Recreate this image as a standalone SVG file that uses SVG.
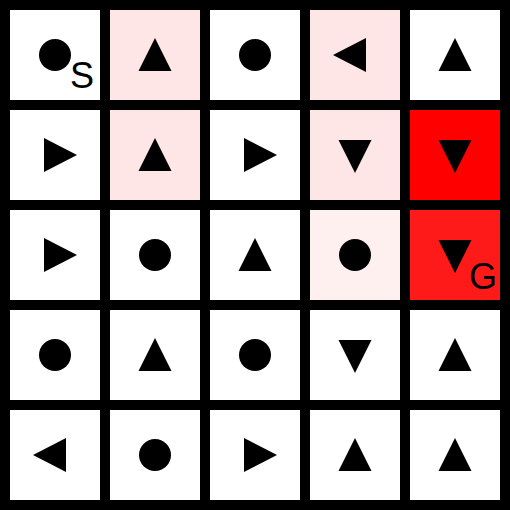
<svg xmlns="http://www.w3.org/2000/svg" xmlns:xlink="http://www.w3.org/1999/xlink" width="510" height="510" viewBox="0 0 510 510">
<style>
.cell{fill:#ffffff}
.p1{fill:#ffe6e6}
.p2{fill:#fff0f0}
.r1{fill:#ff0000}
.r2{fill:#ff1a1a}
.g{fill:#000000}
.lbl{font-family:"Liberation Sans",Arial,sans-serif;font-size:36px;fill:#000}
</style>
<defs>
<circle id="dot" cx="0" cy="0" r="16" class="g"/>
<polygon id="up" points="0,-17 16.5,16 -16.5,16" class="g"/>
<polygon id="down" points="-16.5,-15 16.5,-15 0,18" class="g"/>
<polygon id="left" points="-22,0 11,-17 11,17" class="g"/>
<polygon id="right" points="22,0 -11,-17 -11,17" class="g"/>
</defs>
<rect width="510" height="510" fill="#000"/>
<g id="r0c0"><rect class="cell" x="10" y="10" width="90" height="90"/><use xlink:href="#dot" x="55" y="55"/><text class="lbl" x="70" y="88">S</text></g>
<g id="r0c1"><rect class="p1" x="110" y="10" width="90" height="90"/><use xlink:href="#up" x="155" y="55"/></g>
<g id="r0c2"><rect class="cell" x="210" y="10" width="90" height="90"/><use xlink:href="#dot" x="255" y="55"/></g>
<g id="r0c3"><rect class="p1" x="310" y="10" width="90" height="90"/><use xlink:href="#left" x="355" y="55"/></g>
<g id="r0c4"><rect class="cell" x="410" y="10" width="90" height="90"/><use xlink:href="#up" x="455" y="55"/></g>
<g id="r1c0"><rect class="cell" x="10" y="110" width="90" height="90"/><use xlink:href="#right" x="55" y="155"/></g>
<g id="r1c1"><rect class="p1" x="110" y="110" width="90" height="90"/><use xlink:href="#up" x="155" y="155"/></g>
<g id="r1c2"><rect class="cell" x="210" y="110" width="90" height="90"/><use xlink:href="#right" x="255" y="155"/></g>
<g id="r1c3"><rect class="p1" x="310" y="110" width="90" height="90"/><use xlink:href="#down" x="355" y="155"/></g>
<g id="r1c4"><rect class="r1" x="410" y="110" width="90" height="90"/><use xlink:href="#down" x="455" y="155"/></g>
<g id="r2c0"><rect class="cell" x="10" y="210" width="90" height="90"/><use xlink:href="#right" x="55" y="255"/></g>
<g id="r2c1"><rect class="cell" x="110" y="210" width="90" height="90"/><use xlink:href="#dot" x="155" y="255"/></g>
<g id="r2c2"><rect class="cell" x="210" y="210" width="90" height="90"/><use xlink:href="#up" x="255" y="255"/></g>
<g id="r2c3"><rect class="p2" x="310" y="210" width="90" height="90"/><use xlink:href="#dot" x="355" y="255"/></g>
<g id="r2c4"><rect class="r2" x="410" y="210" width="90" height="90"/><use xlink:href="#down" x="455" y="255"/><text class="lbl" x="469" y="289">G</text></g>
<g id="r3c0"><rect class="cell" x="10" y="310" width="90" height="90"/><use xlink:href="#dot" x="55" y="355"/></g>
<g id="r3c1"><rect class="cell" x="110" y="310" width="90" height="90"/><use xlink:href="#up" x="155" y="355"/></g>
<g id="r3c2"><rect class="cell" x="210" y="310" width="90" height="90"/><use xlink:href="#dot" x="255" y="355"/></g>
<g id="r3c3"><rect class="cell" x="310" y="310" width="90" height="90"/><use xlink:href="#down" x="355" y="355"/></g>
<g id="r3c4"><rect class="cell" x="410" y="310" width="90" height="90"/><use xlink:href="#up" x="455" y="355"/></g>
<g id="r4c0"><rect class="cell" x="10" y="410" width="90" height="90"/><use xlink:href="#left" x="55" y="455"/></g>
<g id="r4c1"><rect class="cell" x="110" y="410" width="90" height="90"/><use xlink:href="#dot" x="155" y="455"/></g>
<g id="r4c2"><rect class="cell" x="210" y="410" width="90" height="90"/><use xlink:href="#right" x="255" y="455"/></g>
<g id="r4c3"><rect class="cell" x="310" y="410" width="90" height="90"/><use xlink:href="#up" x="355" y="455"/></g>
<g id="r4c4"><rect class="cell" x="410" y="410" width="90" height="90"/><use xlink:href="#up" x="455" y="455"/></g>
<g id="connectors"/>
</svg>
